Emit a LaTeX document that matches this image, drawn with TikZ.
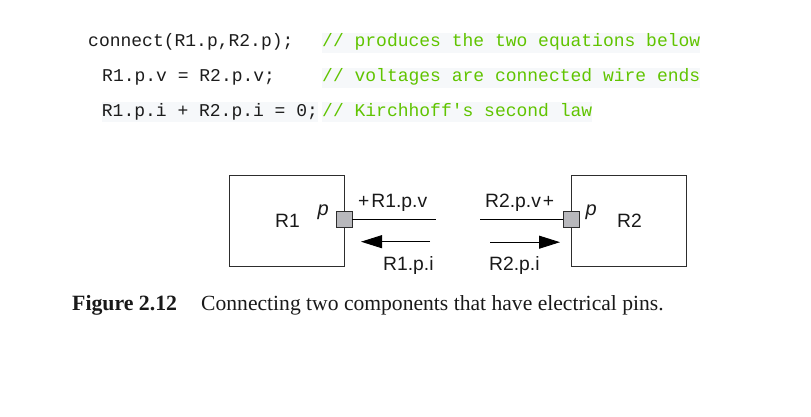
\documentclass[tikz,border=0pt]{standalone}
\usepackage{fontspec}
\setmainfont{Liberation Serif}
\setmonofont{Liberation Mono}
\newfontfamily\diagfont{Liberation Sans}
\usetikzlibrary{arrows.meta}
\definecolor{codefg}{RGB}{28,28,28}
\definecolor{comment}{RGB}{96,196,0}
\definecolor{codebg}{RGB}{246,248,250}
\definecolor{boxline}{RGB}{45,45,45}
\definecolor{pinfill}{RGB}{184,184,188}
\tikzset{
  code/.style={anchor=base west,inner sep=0pt,text height=14.4pt,text depth=5.6pt,
    font=\ttfamily\fontsize{18}{22}\selectfont,text=codefg},
  cmt/.style={code,fill=codebg,text=comment},
  codebgd/.style={code,fill=codebg},
  comp/.style={draw=boxline,line width=0.9pt,minimum width=115pt,minimum height=91pt,inner sep=0pt},
  pin/.style={draw=boxline,fill=pinfill,line width=0.9pt,minimum size=16pt,inner sep=0pt},
  lbl/.style={anchor=base west,inner sep=0pt,font=\diagfont\fontsize{19.3}{22}\selectfont,text=black!90},
  pinlbl/.style={anchor=base west,inner sep=0pt,font=\diagfont\itshape\fontsize{20}{22}\selectfont,text=black!90},
  wire/.style={draw=black,line width=0.9pt},
  flow/.style={draw=black,line width=0.9pt,-{Triangle[length=21pt,width=13pt]}},
  captext/.style={anchor=base west,inner sep=0pt,font=\fontsize{21.6}{25}\selectfont,text=black!90}
}
\begin{document}
\begin{tikzpicture}[x=1pt,y=-1pt]
\useasboundingbox (0,0) rectangle (811,417);
% code
\node[code] (c1) at (88,47) {connect(R1.p,R2.p);};
\node[cmt] (m1) at (322,47) {// produces the two equations below};
\node[code] (c2) at (102,82) {R1.p.v = R2.p.v;};
\node[cmt] (m2) at (322,82) {// voltages are connected wire ends};
\node[codebgd] (c3) at (101.7,116.5) {R1.p.i + R2.p.i = 0;};
\node[cmt] (m3) at (322,116.5) {// Kirchhoff's second law};
% components
\node[comp] (R1) at (286.5,220.5) {};
\node[comp] (R2) at (628.5,220.5) {};
\node[lbl] (t1) at (275,227.5) {R1};
\node[lbl] (t2) at (617,227.5) {R2};
\node[pin] (p1) at (344,219.8) {};
\node[pin] (p2) at (571,219.6) {};
\node[pinlbl] (q1) at (317.5,215) {p};
\node[pinlbl] (q2) at (585.5,215) {p};
% wires
\coordinate (w1) at (436,219.8);
\coordinate (w2) at (480,219.6);
\draw[wire] (p1.east) -- (w1);
\draw[wire] (w2) -- (p2.west);
% currents
\coordinate (a1s) at (430,241.7);
\coordinate (a1e) at (361,241.7);
\coordinate (a2s) at (490,242.2);
\coordinate (a2e) at (560,242.2);
\draw[flow] (a1s) -- (a1e);
\draw[flow] (a2s) -- (a2e);
% labels
\node[lbl] (v1) at (358,207.3) {+\hspace{2pt}R1.p.v};
\node[lbl] (v2) at (485,207.5) {R2.p.v\hspace{2pt}+};
\node[lbl] (i1) at (383,270.8) {R1.p.i};
\node[lbl] (i2) at (489,270.3) {R2.p.i};
% caption
\node[captext,font=\bfseries\fontsize{21.8}{25}\selectfont] (f1) at (72,310) {Figure 2.12};
\node[captext] (f2) at (201,310) {Connecting two components that have electrical pins.};
\end{tikzpicture}
\end{document}
